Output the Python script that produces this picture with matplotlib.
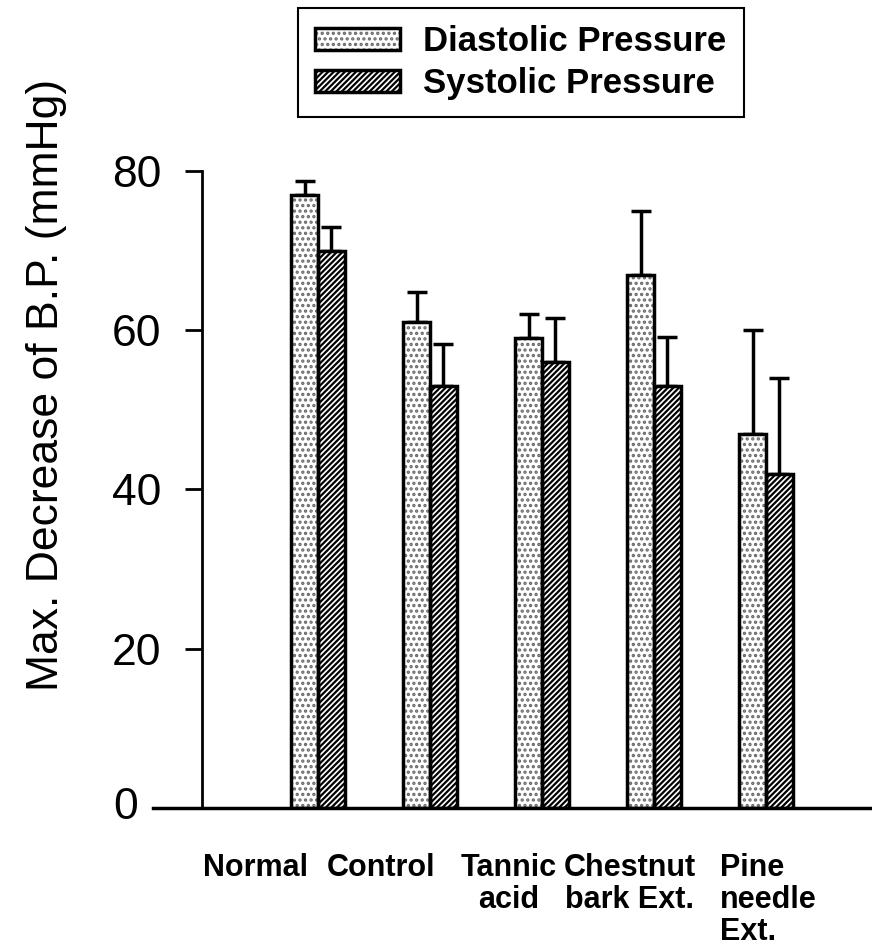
import numpy as np
import matplotlib
matplotlib.use("Agg")
import matplotlib.pyplot as plt
from matplotlib.patches import Patch

# ---- data ----
categories = ["Normal", "Control", "Tannic\nacid", "Chestnut\nbark Ext.", "Pine\nneedle\nExt."]
diastolic = [77, 61, 59, 67, 47]
diastolic_err = [1.7, 3.8, 3.0, 8.0, 13.0]
systolic = [70, 53, 56, 53, 42]
systolic_err = [3.0, 5.3, 5.5, 6.2, 12.0]
yticks = [0, 20, 40, 60, 80]
series_names = ["Diastolic Pressure", "Systolic Pressure"]

plt.rcParams['font.family'] = ['Liberation Sans', 'DejaVu Sans']
plt.rcParams['hatch.linewidth'] = 1.6

fig = plt.figure(figsize=(8.72, 9.49), dpi=100)
ax = fig.add_axes([0.1755, 0.1486, 0.8245, 0.6712])

x = np.arange(len(categories))
w = 0.24
dia_fill = dict(facecolor='white', edgecolor='#6a6a6a', hatch='...', linewidth=0)
outline = dict(fill=False, edgecolor='black', linewidth=2.5)
sys_style = dict(facecolor='white', edgecolor='black', hatch='//////', linewidth=2.5)

ax.errorbar(x - w / 2, diastolic, yerr=[np.zeros(len(x)), diastolic_err], fmt='none',
            ecolor='black', elinewidth=2.5, capsize=7, capthick=2.5, zorder=1)
ax.errorbar(x + w / 2, systolic, yerr=[np.zeros(len(x)), systolic_err], fmt='none',
            ecolor='black', elinewidth=2.5, capsize=7, capthick=2.5, zorder=1)
ax.bar(x - w / 2, diastolic, w, zorder=2, **dia_fill)
ax.bar(x - w / 2, diastolic, w, zorder=3, **outline)
ax.bar(x + w / 2, systolic, w, zorder=2, **sys_style)

ax.set_xlim(-1.473, 4.946)
ax.set_ylim(0, 80)
ax.set_yticks(yticks)
# the "0" label sits further left, clear of the extended x axis line
ax.set_yticklabels(['' if t == 0 else str(t) for t in yticks])
ax.tick_params(axis='y', length=12, width=2, pad=17, direction='out', labelsize=32)
ax.set_xticks([])
ax.annotate(str(yticks[0]), xy=(0, yticks[0]), xycoords=('axes fraction', 'data'),
            xytext=(-11, 0), textcoords='offset points', ha='right', va='center',
            fontsize=32, annotation_clip=False)

for s in ['top', 'right']:
    ax.spines[s].set_visible(False)
ax.spines['left'].set_position(('data', -1.036))
ax.spines['left'].set_linewidth(2)
ax.spines['bottom'].set_linewidth(2.5)

ax.set_ylabel("Max. Decrease of B.P. (mmHg)", fontsize=32)
ax.yaxis.set_label_coords((67 - 153) / (0.8245 * 872), (808 - 385) / 637)

# category labels (offset from groups as in original)
offsets = [-0.56, -0.44, -0.30, -0.22, -0.41]
has = ['center', 'center', 'center', 'center', 'left']
for xi, lab, off, ha in zip(x, categories, offsets, has):
    ax.text(xi + off, -0.07, lab, transform=ax.get_xaxis_transform(), ha=ha, va='top',
            fontsize=22, fontweight='bold', multialignment=ha, linespacing=1.1)

handles = [(Patch(**dia_fill), Patch(**outline)), Patch(**sys_style)]
leg = fig.legend(handles=handles, labels=series_names, loc='upper left',
                 bbox_to_anchor=(298 / 872, 1 - 8 / 949), borderaxespad=0,
                 prop={'size': 25, 'weight': 'bold'}, handlelength=2.45, handleheight=0.6,
                 handletextpad=0.66, labelspacing=0.25, borderpad=0.5, fancybox=False,
                 frameon=True, edgecolor='black', framealpha=1)
leg.get_frame().set_linewidth(1.5)

fig.savefig("out.png", dpi=100)
